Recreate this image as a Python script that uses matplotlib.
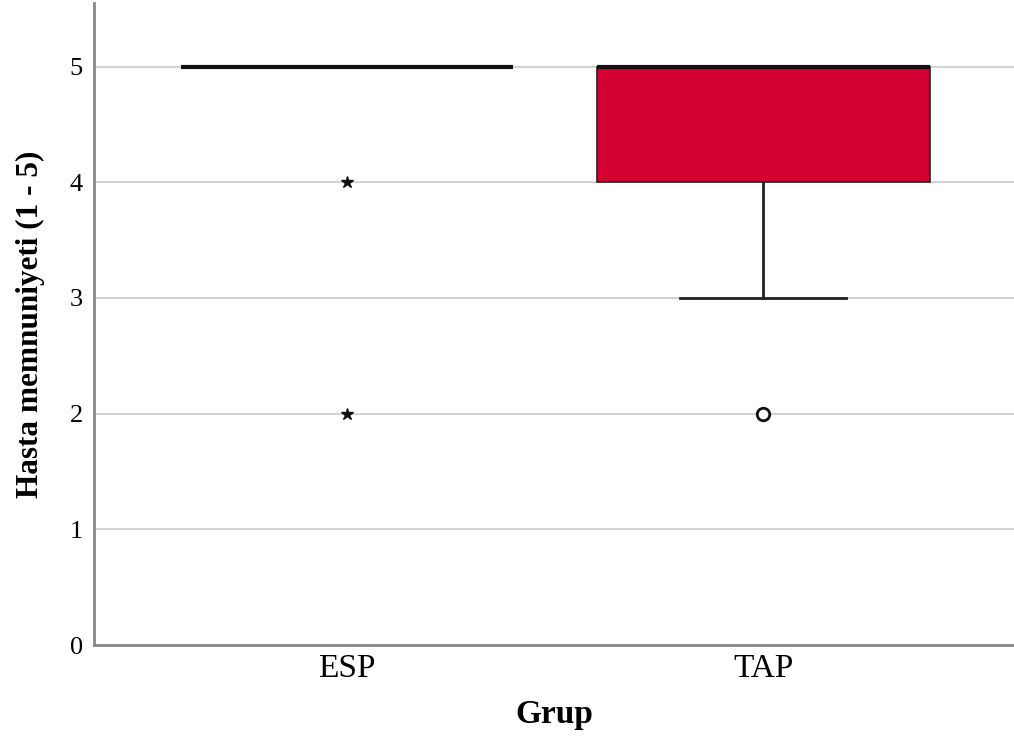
import numpy as np
import matplotlib.pyplot as plt

# Grup categories and box statistics
groups = ["ESP", "TAP"]
q1 = [5, 4]
medians = [5, 5]
q3 = [5, 5]
whisker_low = [5, 3]
whisker_high = [5, 5]
# circles = outliers, stars = extreme values
outliers = [[], [2]]
extremes = [[4, 2], []]

box_color = "#D50032"

plt.rcParams["font.family"] = ["Liberation Serif", "DejaVu Serif"]

fig = plt.figure(figsize=(10.14, 7.51), dpi=100)
ax = fig.add_axes([0.0927, 0.1411, 0.9073, 0.855])

positions = np.arange(len(groups))
stats = []
for i, g in enumerate(groups):
    stats.append({
        "label": g,
        "q1": q1[i], "med": medians[i], "q3": q3[i],
        "whislo": whisker_low[i], "whishi": whisker_high[i],
        "fliers": [],
    })

ax.bxp(stats, positions=positions, widths=0.8, patch_artist=True,
       showfliers=False,
       boxprops=dict(facecolor=box_color, edgecolor="#222222", linewidth=1.2),
       medianprops=dict(color="#111111", linewidth=3),
       whiskerprops=dict(color="#222222", linewidth=2),
       capprops=dict(color="#222222", linewidth=2),
       capwidths=0.4, zorder=3)

for i in positions:
    if outliers[i]:
        ax.plot([i] * len(outliers[i]), outliers[i], linestyle="none", marker="o",
                markersize=9, markerfacecolor="white", markeredgecolor="#111111",
                markeredgewidth=2, zorder=4)
    if extremes[i]:
        ax.plot([i] * len(extremes[i]), extremes[i], linestyle="none", marker="*",
                markersize=9, color="#111111", zorder=4)

ax.set_xlim(-0.608, 1.603)
ax.set_ylim(0, 5.55)
ax.set_yticks(range(0, 6))
ax.set_xticks(positions)
ax.set_xticklabels(groups, fontsize=24)
for t in ax.get_yticklabels():
    t.set_fontsize(19)

ax.tick_params(axis="y", length=0, pad=8)
ax.tick_params(axis="x", length=0, pad=6)

ax.yaxis.grid(True, color="#d4d4d4", linewidth=1.5, zorder=0)
ax.set_axisbelow(True)

for side in ["top", "right"]:
    ax.spines[side].set_visible(False)
for side in ["left", "bottom"]:
    ax.spines[side].set_color("#888888")
    ax.spines[side].set_linewidth(2)

ax.set_xlabel("Grup", fontsize=24, fontweight="bold", labelpad=11)
ax.set_ylabel("Hasta memnuniyeti (1 - 5)", fontsize=22.5, fontweight="bold", labelpad=18)

fig.savefig("out.png", dpi=100)
